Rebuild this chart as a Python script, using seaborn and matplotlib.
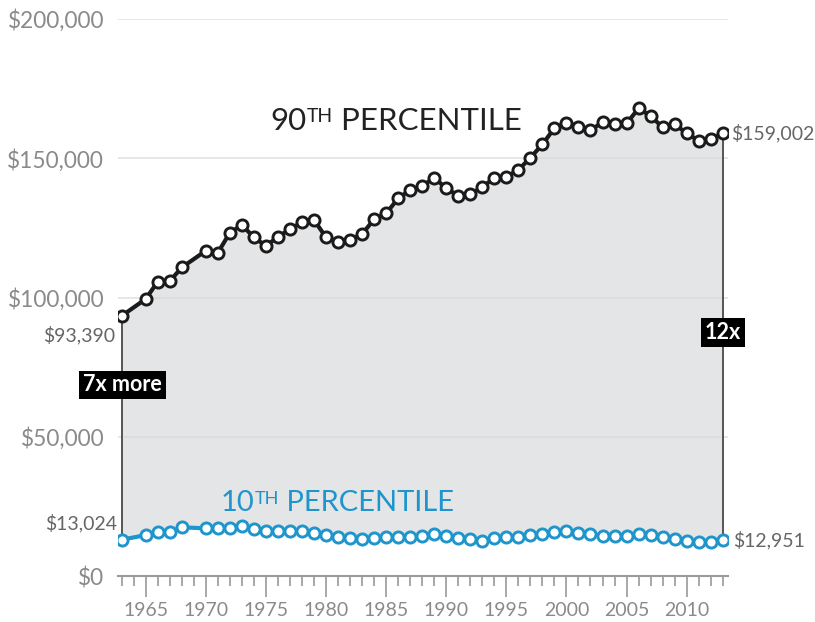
import matplotlib
matplotlib.use("Agg")
import matplotlib.pyplot as plt
import seaborn as sns
import pandas as pd

# Household income at the 90th and 10th percentiles (1964 and 1969 not reported)
years = [1963, 1965, 1966, 1967, 1968] + list(range(1970, 2014))
p90 = [93390, 99500, 105700, 105900, 110800, 116800, 116100, 123300, 126000, 121600,
       118500, 121800, 124500, 127100, 127800, 121600, 120000, 120600, 122800, 128100,
       130200, 135600, 138600, 140000, 143000, 139200, 136600, 137100, 139600, 143000,
       143400, 145800, 150200, 155000, 160800, 162800, 161300, 160100, 162900, 162200,
       162500, 167900, 165200, 161100, 162200, 159000, 156300, 156800, 159002]
p10 = [13024, 14700, 15700, 15700, 17500, 17100, 17100, 17100, 18000, 16900,
       16300, 16300, 16300, 16300, 15600, 14900, 14100, 13500, 13300, 13500,
       13900, 14100, 14100, 14400, 15100, 14500, 13500, 13200, 12700, 13500,
       14100, 14100, 14700, 15100, 15700, 16300, 15300, 15100, 14500, 14400,
       14500, 15100, 14700, 13900, 13200, 12700, 12300, 12300, 12951]
y_ticks = [0, 50000, 100000, 150000, 200000]
y_tick_labels = ["$0", "$50,000", "$100,000", "$150,000", "$200,000"]
x_major = [1965, 1970, 1975, 1980, 1985, 1990, 1995, 2000, 2005, 2010]
ratio_start = "7x more"
ratio_end = "12x"

df = pd.DataFrame({"year": years, "p90": p90, "p10": p10})

sns.set_theme(style="white")
plt.rcParams["font.family"] = ["Lato", "DejaVu Sans"]

DARK = "#1b1b1b"
BLUE = "#1f95cc"
GREY_TXT = "#8a8a8a"

fig = plt.figure(figsize=(8.15, 6.22), dpi=100)
ax = fig.add_axes([118 / 815, 46 / 622, 610 / 815, 557 / 622])

# shaded gap between the two percentiles
ax.fill_between(df["year"], df["p10"], df["p90"], color="#e4e5e6", lw=0, zorder=1)

for yv in y_ticks[1:]:
    ax.axhline(yv, color="#d9d9d9", lw=1.1, zorder=2, alpha=0.8)

# vertical connectors at both ends
ax.vlines([years[0], years[-1]], [p10[0], p10[-1]], [p90[0], p90[-1]],
          color="#555555", lw=1.4, zorder=3)

line_kw = dict(marker="o", markersize=8, markerfacecolor="white",
               markeredgewidth=2.1, linewidth=3.0, zorder=5)
sns.lineplot(data=df, x="year", y="p90", ax=ax, color=DARK,
             markeredgecolor=DARK, **line_kw)
sns.lineplot(data=df, x="year", y="p10", ax=ax, color=BLUE,
             markeredgecolor=BLUE, **line_kw)

ax.set_xlim(1962.69, 2013.44)
ax.set_ylim(0, 200000)
ax.set_xlabel("")
ax.set_ylabel("")

for s in ["top", "right", "left"]:
    ax.spines[s].set_visible(False)
ax.spines["bottom"].set_color("#9a9a9a")
ax.spines["bottom"].set_linewidth(1.5)

ax.set_yticks(y_ticks)
ax.set_yticklabels(y_tick_labels)
ax.tick_params(axis="y", length=0, pad=10, labelsize=16.3, labelcolor=GREY_TXT)

ax.set_xticks(x_major)
ax.set_xticklabels([str(v) for v in x_major])
ax.set_xticks(range(1963, 2014), minor=True)
ax.tick_params(axis="x", which="major", direction="out", length=15, width=1.4,
               color="#a8a8a8", pad=4, labelsize=14, labelcolor=GREY_TXT, bottom=True)
ax.tick_params(axis="x", which="minor", direction="out", length=7, width=1.4,
               color="#a8a8a8", bottom=True)


def ordinal_title(x, y, num, color, size):
    """Draw e.g. '90TH PERCENTILE' with a raised, smaller 'TH'."""
    t1 = ax.text(x, y, num, color=color, fontsize=size, ha="left", va="baseline", zorder=6)
    t2 = ax.annotate("TH", xy=(1.02, 0.97), xycoords=t1, color=color, fontsize=size * 0.62,
                     ha="left", va="top", zorder=6)
    ax.annotate(" PERCENTILE", xy=(1.0, 0), xycoords=(t2, t1), color=color,
                fontsize=size, ha="left", va="bottom", zorder=6)


ordinal_title(1975.34, 160100, "90", "#222222", 22.5)
ordinal_title(1971.2, 23300, "10", BLUE, 21)

# end-point values
lab_kw = dict(textcoords="offset pixels", fontsize=14, color="#666666", zorder=6)
ax.annotate(f"${p90[0]:,}", (years[0], p90[0]), xytext=(-6, -19), ha="right", va="center", **lab_kw)
ax.annotate(f"${p10[0]:,}", (years[0], p10[0]), xytext=(-5, 17), ha="right", va="center", **lab_kw)
ax.annotate(f"${p90[-1]:,}", (years[-1], p90[-1]), xytext=(8, 0), ha="left", va="center", **lab_kw)
ax.annotate(f"${p10[-1]:,}", (years[-1], p10[-1]), xytext=(10, 0), ha="left", va="center", **lab_kw)

box = dict(boxstyle="square,pad=0.18", facecolor="black", edgecolor="none")
ax.text(years[0] + 0.07, 68600, ratio_start, color="white", fontsize=15.5, fontweight="bold",
        ha="center", va="center", bbox=box, zorder=7)
ax.text(years[-1], 87300, ratio_end, color="white", fontsize=15.5, fontweight="bold",
        ha="center", va="center", bbox=box, zorder=7)

fig.savefig("out.png", dpi=100, facecolor="white")
